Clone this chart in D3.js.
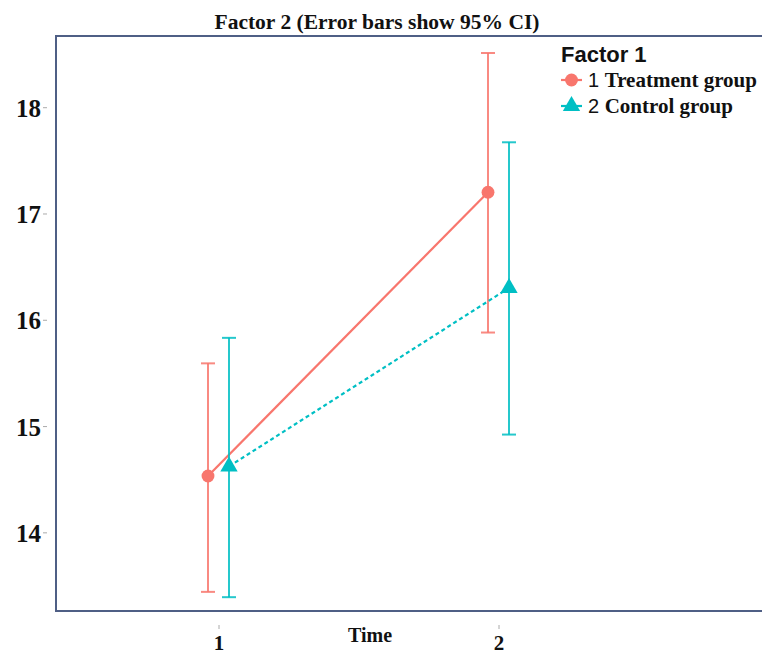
<!DOCTYPE html>
<html>
<head>
    <meta charset="utf-8" />
    <title>Factor 2 (Error bars show 95% CI)</title>
    <style>
        body { margin: 0; background: #fff; }
        .serif { font-family: "Liberation Serif", "DejaVu Serif", serif; font-weight: bold; fill: #111; }
        .sans { font-family: "Liberation Sans", Arial, sans-serif; fill: #111; }
        .tick line { stroke: #aaa; }
    </style>
</head>
<body>
    <svg id="chart" width="762" height="654"></svg>
    <script src="https://d3js.org/d3.v7.min.js"></script>
    <script>
        // data
        var times = [1, 2];
        var groups = ["1 Treatment group", "2 Control group"];
        var treatMean = [14.53, 17.20];
        var treatLow = [13.44, 15.88];
        var treatHigh = [15.59, 18.51];
        var ctrlMean = [14.62, 16.30];
        var ctrlLow = [13.39, 14.92];
        var ctrlHigh = [15.83, 17.67];
        var yTicks = [14, 15, 16, 17, 18];

        var colors = ["#F8766D", "#00BFC4"];
        var svg = d3.select("#chart");

        var x = d3.scaleLinear().domain([1, 2]).range([218.5, 498.5]);
        var y = d3.scaleLinear().domain([13.26, 18.67]).range([611, 36]);
        var dodge = [-10.5, 10.5];

        // panel border (top, left, bottom; right runs off the image)
        svg.append("path")
            .attr("d", "M762,36H56V611H762")
            .attr("fill", "none")
            .attr("stroke", "#4f5f85")
            .attr("stroke-width", 2);

        // axes
        var yAxis = svg.append("g")
            .attr("transform", "translate(47,0)")
            .call(d3.axisLeft(y).tickValues(yTicks).tickFormat(d3.format("d")).tickSize(4).tickPadding(2));
        yAxis.select(".domain").remove();
        yAxis.selectAll("text").attr("class", "serif").style("font-size", "25px").attr("dy", "0.36em");

        var xAxis = svg.append("g")
            .attr("transform", "translate(0,625)")
            .call(d3.axisBottom(x).tickValues(times).tickFormat(d3.format("d")).tickSize(4).tickPadding(6));
        xAxis.select(".domain").remove();
        xAxis.selectAll("text").attr("class", "serif").style("font-size", "21px");

        svg.append("text").attr("class", "serif")
            .attr("x", 370).attr("y", 642)
            .attr("text-anchor", "middle")
            .style("font-size", "20px")
            .text("Time");

        svg.append("text").attr("class", "serif")
            .attr("x", 377).attr("y", 29)
            .attr("text-anchor", "middle")
            .style("font-size", "20px")
            .attr("textLength", 325).attr("lengthAdjust", "spacingAndGlyphs")
            .text("Factor 2 (Error bars show 95% CI)");

        var series = [
            { mean: treatMean, low: treatLow, high: treatHigh, dash: null, shape: d3.symbolCircle, size: 130 },
            { mean: ctrlMean, low: ctrlLow, high: ctrlHigh, dash: "4,3", shape: d3.symbolTriangle, size: 130 }
        ];

        var line = d3.line();

        series.forEach(function(s, i) {
            var g = svg.append("g");
            var px = function(t) { return x(t) + dodge[i]; };

            // error bars
            times.forEach(function(t, j) {
                g.append("line")
                    .attr("x1", px(t)).attr("x2", px(t))
                    .attr("y1", y(s.low[j])).attr("y2", y(s.high[j]))
                    .attr("stroke", colors[i]).attr("stroke-width", 2).attr("opacity", 0.85);
                [s.low[j], s.high[j]].forEach(function(v) {
                    g.append("line")
                        .attr("x1", px(t) - 7).attr("x2", px(t) + 7)
                        .attr("y1", y(v)).attr("y2", y(v))
                        .attr("stroke", colors[i]).attr("stroke-width", 2).attr("opacity", 0.85);
                });
            });

            // connecting line
            g.append("path")
                .attr("d", line(times.map(function(t, j) { return [px(t), y(s.mean[j])]; })))
                .attr("fill", "none")
                .attr("stroke", colors[i])
                .attr("stroke-width", 2.2)
                .attr("stroke-dasharray", s.dash);

            // points
            times.forEach(function(t, j) {
                g.append("path")
                    .attr("d", d3.symbol().type(s.shape).size(s.size)())
                    .attr("transform", "translate(" + px(t) + "," + y(s.mean[j]) + ")")
                    .attr("fill", colors[i]);
            });
        });

        // legend
        var legend = svg.append("g");
        legend.append("text").attr("class", "sans")
            .attr("x", 561).attr("y", 62)
            .style("font-size", "22px")
            .style("font-weight", "bold")
            .text("Factor 1");

        groups.forEach(function(name, i) {
            var ly = 80 + i * 26;
            legend.append("line")
                .attr("x1", 561).attr("x2", 582)
                .attr("y1", ly).attr("y2", ly)
                .attr("stroke", colors[i]).attr("stroke-width", 2.2);
            legend.append("path")
                .attr("d", d3.symbol().type(series[i].shape).size(series[i].size)())
                .attr("transform", "translate(571.5," + ly + ")")
                .attr("fill", colors[i]);
            var parts = name.split(" ");
            var t = legend.append("text").attr("x", 588).attr("y", ly + 7);
            t.append("tspan").attr("class", "sans").style("font-size", "20px").text(parts[0] + " ");
            t.append("tspan").attr("class", "serif").style("font-size", "21px").text(parts.slice(1).join(" "));
        });
    </script>
</body>
</html>
